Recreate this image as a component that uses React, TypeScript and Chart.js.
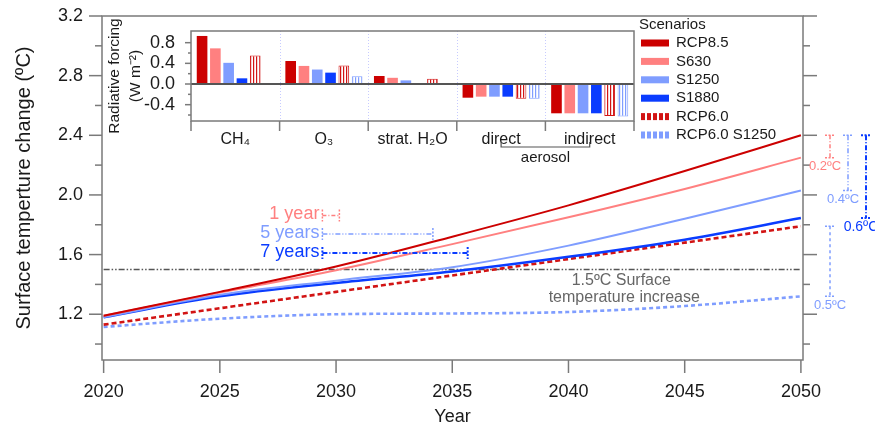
import React, { useEffect, useRef } from 'react';
import { Chart, registerables } from 'chart.js';

Chart.register(...registerables);

// ---------------- data ----------------
const years = [2020, 2025, 2030, 2035, 2040, 2045, 2050];
const rcp85 = [1.19, 1.35, 1.52, 1.72, 1.93, 2.16, 2.4];
const s630 = [1.19, 1.345, 1.495, 1.67, 1.85, 2.04, 2.25];
const s1250 = [1.18, 1.33, 1.425, 1.515, 1.66, 1.84, 2.03];
const s1880 = [1.18, 1.32, 1.41, 1.487, 1.585, 1.7, 1.845];
const rcp60 = [1.13, 1.24, 1.35, 1.46, 1.57, 1.68, 1.79];
const rcp60s1250 = [1.115, 1.17, 1.2, 1.205, 1.215, 1.255, 1.32];

const scenarioNames = ['RCP8.5', 'S630', 'S1250', 'S1880', 'RCP6.0', 'RCP6.0 S1250'];
const legendTitle = 'Scenarios';

const thresholdValue = 1.5;
const thresholdText = ['1.5ºC Surface', 'temperature increase'];

const delayLabels = ['1 year', '5 years', '7 years'];
const diffLabels = ['0.2ºC', '0.4ºC', '0.6ºC', '0.5ºC'];

const xTicks = [2020, 2025, 2030, 2035, 2040, 2045, 2050];
const yTicks = [1.2, 1.6, 2.0, 2.4, 2.8, 3.2];
const yMinorTicks = [1.0, 1.4, 1.8, 2.2, 2.6, 3.0];

const forcingCategories = ['CH₄', 'O₃', 'strat. H₂O', 'direct', 'indirect'];
const forcingRCP85 = [0.93, 0.445, 0.155, -0.265, -0.567];
const forcingS630 = [0.69, 0.35, 0.12, -0.245, -0.567];
const forcingS1250 = [0.41, 0.28, 0.07, -0.245, -0.567];
const forcingS1880 = [0.11, 0.22, 0.02, -0.245, -0.567];
const forcingRCP60 = [0.55, 0.36, 0.1, -0.284, -0.62];
const forcingRCP60S1250 = [0, 0.15, 0, -0.284, -0.63];
const aerosolGroupLabel = 'aerosol';
const aerosolGroup = [3, 4];
const insetYTicks = [-0.4, 0, 0.4, 0.8];
const insetYMinorTicks = [-0.6, -0.2, 0.2, 0.6];

// ---------------- styles / layout ----------------
const FONT = '"Liberation Sans", Arial, Helvetica, sans-serif';
const TEXT = '#1a1a1a';
const AXIS = '#7a7a7a';
const RED = '#cc0000';
const RED2 = '#d21414';
const PINK = '#ff8080';
const LBLUE = '#7f9dff';
const BLUE = '#0a3cff';
const HIDDEN = 'rgba(0,0,0,0)';

const scenarioValues = [rcp85, s630, s1250, s1880, rcp60, rcp60s1250];
const scenarioStyles = [
  { color: RED, width: 2, dash: [] as number[] },
  { color: PINK, width: 2, dash: [] as number[] },
  { color: LBLUE, width: 2, dash: [] as number[] },
  { color: BLUE, width: 2.5, dash: [] as number[] },
  { color: RED2, width: 2.6, dash: [5, 3] },
  { color: LBLUE, width: 2.6, dash: [4, 3] },
];

// delay brackets: reference scenario 0 vs scenarios 1,2,3
const delayCompare = [1, 2, 3];
const delayRowValues = [1.862, 1.738, 1.611];
const delayStyles = [
  { color: PINK, width: 1.5, dash: [4, 2, 1, 2] },
  { color: LBLUE, width: 1.5, dash: [5, 2, 1, 2, 1, 2] },
  { color: BLUE, width: 2, dash: [5, 2, 1, 2] },
];

// right side differences at 2050
const diffPairs = [[0, 1], [0, 2], [0, 3], [4, 5]];
const diffOffsets = [27, 45, 63, 27];
const diffLabelShift = [-5, -5, -5, 0];
const diffStyles = [
  { color: PINK, width: 1.5, dash: [4, 2, 1, 2], font: `13px ${FONT}` },
  { color: LBLUE, width: 1.5, dash: [5, 2, 1, 2, 1, 2], font: `13px ${FONT}` },
  { color: BLUE, width: 2, dash: [5, 2, 1, 2], font: `14px ${FONT}` },
  { color: LBLUE, width: 1.5, dash: [3, 3], font: `13px ${FONT}` },
];

function crossingYear(vals: number[], level: number): number {
  for (let i = 1; i < vals.length; i++) {
    if (vals[i - 1] < level && vals[i] >= level) {
      return years[i - 1] + ((years[i] - years[i - 1]) * (level - vals[i - 1])) / (vals[i] - vals[i - 1]);
    }
  }
  return years[years.length - 1];
}

function strokeLine(ctx: CanvasRenderingContext2D, x1: number, y1: number, x2: number, y2: number) {
  ctx.beginPath();
  ctx.moveTo(x1, y1);
  ctx.lineTo(x2, y2);
  ctx.stroke();
}

const mainPlugin = {
  id: 'mainDecor',
  afterDatasetsDraw(chart: any) {
    const { ctx, scales } = chart;
    const x = scales.x;
    const y = scales.y;
    ctx.save();

    // threshold label
    ctx.fillStyle = '#666';
    ctx.font = `16px ${FONT}`;
    ctx.textAlign = 'center';
    ctx.textBaseline = 'middle';
    const ty = y.getPixelForValue(thresholdValue);
    const tx = x.getPixelForValue(2042.4);
    ctx.fillText(thresholdText[0], tx - 3, ty + 11);
    ctx.fillText(thresholdText[1], tx, ty + 28);

    // delay brackets
    const startYear = crossingYear(scenarioValues[0], thresholdValue);
    const x1 = x.getPixelForValue(startYear);
    delayCompare.forEach((si, k) => {
      const st = delayStyles[k];
      const x2 = x.getPixelForValue(crossingYear(scenarioValues[si], thresholdValue));
      const yy = y.getPixelForValue(delayRowValues[k]);
      ctx.strokeStyle = st.color;
      ctx.lineWidth = st.width;
      ctx.setLineDash(st.dash);
      strokeLine(ctx, x1, yy, x2, yy);
      ctx.setLineDash([2, 1.5]);
      strokeLine(ctx, x1, yy - 6, x1, yy + 6);
      strokeLine(ctx, x2, yy - 6, x2, yy + 6);
      ctx.setLineDash([]);
      ctx.fillStyle = st.color;
      ctx.font = `18px ${FONT}`;
      ctx.textAlign = 'right';
      ctx.textBaseline = 'middle';
      ctx.fillText(delayLabels[k], x1 - 3, yy - 1);
    });

    ctx.restore();
  },
  afterDraw(chart: any) {
    const { ctx, chartArea: ca, scales } = chart;
    const x = scales.x;
    const y = scales.y;
    ctx.save();
    ctx.setLineDash([]);
    ctx.strokeStyle = AXIS;
    ctx.lineWidth = 1.5;
    ctx.strokeRect(ca.left, ca.top, ca.right - ca.left, ca.bottom - ca.top);

    // ticks
    yTicks.forEach((v) => {
      const py = y.getPixelForValue(v);
      strokeLine(ctx, ca.left - 13, py, ca.left, py);
      strokeLine(ctx, ca.right, py, ca.right + 14, py);
    });
    yMinorTicks.forEach((v) => {
      const py = y.getPixelForValue(v);
      strokeLine(ctx, ca.left - 7, py, ca.left, py);
      strokeLine(ctx, ca.right, py, ca.right + 7, py);
    });
    xTicks.forEach((v) => {
      const px = x.getPixelForValue(v);
      strokeLine(ctx, px, ca.bottom, px, ca.bottom + 13);
    });

    // right side differences
    diffPairs.forEach(([a, b], k) => {
      const st = diffStyles[k];
      const va = scenarioValues[a][scenarioValues[a].length - 1];
      const vb = scenarioValues[b][scenarioValues[b].length - 1];
      const px = ca.right + diffOffsets[k];
      const p1 = y.getPixelForValue(va);
      const p2 = y.getPixelForValue(vb);
      ctx.strokeStyle = st.color;
      ctx.lineWidth = st.width;
      ctx.setLineDash(st.dash);
      strokeLine(ctx, px, p1, px, p2);
      ctx.setLineDash([2, 1.5]);
      strokeLine(ctx, px - 5, p1, px + 5, p1);
      strokeLine(ctx, px - 5, p2, px + 5, p2);
      ctx.setLineDash([]);
      ctx.fillStyle = st.color;
      ctx.font = st.font;
      ctx.textAlign = 'center';
      ctx.textBaseline = 'middle';
      ctx.fillText(diffLabels[k], px + diffLabelShift[k], p2 + 9);
    });

    // legend
    const lx = ca.right - 164;
    const ly = ca.top + 9;
    ctx.font = `15px ${FONT}`;
    ctx.textAlign = 'left';
    ctx.textBaseline = 'middle';
    ctx.fillStyle = TEXT;
    ctx.fillText(legendTitle, lx, ly);
    scenarioNames.forEach((name, i) => {
      const yy = ly + 18 + i * 18.4;
      const st = scenarioStyles[i];
      ctx.fillStyle = st.color;
      if (st.dash.length) {
        for (let k = 0; k < 5; k++) ctx.fillRect(lx + 2 + k * 6, yy - 3.5, 4, 7);
      } else {
        ctx.fillRect(lx + 2, yy - 3.5, 28, 7);
      }
      ctx.fillStyle = TEXT;
      ctx.fillText(name, lx + 37, yy);
    });
    ctx.restore();
  },
};

function makeStripePattern(color: string): CanvasPattern | string {
  const c = document.createElement('canvas');
  c.width = 3;
  c.height = 8;
  const g = c.getContext('2d');
  if (!g) return color;
  g.fillStyle = '#ffffff';
  g.fillRect(0, 0, 3, 8);
  g.fillStyle = color;
  g.fillRect(0, 0, 1.2, 8);
  const p = g.createPattern(c, 'repeat');
  return p || color;
}

const insetPlugin = {
  id: 'insetDecor',
  beforeDatasetsDraw(chart: any) {
    const { ctx, chartArea: ca } = chart;
    const n = forcingCategories.length;
    const w = (ca.right - ca.left) / n;
    ctx.save();
    ctx.strokeStyle = 'rgba(130,140,255,0.45)';
    ctx.lineWidth = 1;
    ctx.setLineDash([1, 2]);
    for (let i = 1; i < n; i++) {
      const px = Math.round(ca.left + i * w) + 0.5;
      strokeLine(ctx, px, ca.top, px, ca.bottom);
    }
    ctx.restore();
  },
  afterDatasetsDraw(chart: any) {
    const { ctx, chartArea: ca, scales } = chart;
    const x = scales.x;
    const y = scales.y;
    const n = forcingCategories.length;
    const w = (ca.right - ca.left) / n;
    ctx.save();
    ctx.setLineDash([]);
    // zero line
    ctx.strokeStyle = '#555';
    ctx.lineWidth = 2;
    const zy = y.getPixelForValue(0);
    strokeLine(ctx, ca.left, zy, ca.right, zy);
    // frame
    ctx.strokeStyle = AXIS;
    ctx.lineWidth = 1.5;
    ctx.strokeRect(ca.left, ca.top, ca.right - ca.left, ca.bottom - ca.top);
    insetYTicks.forEach((v) => {
      const py = y.getPixelForValue(v);
      strokeLine(ctx, ca.left - 6, py, ca.left, py);
    });
    insetYMinorTicks.forEach((v) => {
      const py = y.getPixelForValue(v);
      strokeLine(ctx, ca.left - 3, py, ca.left, py);
    });
    for (let i = 0; i <= n; i++) {
      const px = ca.left + i * w;
      strokeLine(ctx, px, ca.bottom, px, ca.bottom + 10);
    }
    // aerosol bracket
    const ax1 = x.getPixelForValue(aerosolGroup[0]);
    const ax2 = x.getPixelForValue(aerosolGroup[1]);
    const by = ca.bottom + 26;
    ctx.strokeStyle = '#555';
    ctx.lineWidth = 1.2;
    ctx.beginPath();
    ctx.moveTo(ax1, by - 5);
    ctx.lineTo(ax1, by);
    ctx.lineTo(ax2, by);
    ctx.lineTo(ax2, by - 5);
    ctx.stroke();
    ctx.fillStyle = TEXT;
    ctx.font = `15px ${FONT}`;
    ctx.textAlign = 'center';
    ctx.textBaseline = 'middle';
    ctx.fillText(aerosolGroupLabel, (ax1 + ax2) / 2, ca.bottom + 37);
    ctx.restore();
  },
};

export default function App() {
  const mainRef = useRef<HTMLCanvasElement>(null);
  const insetRef = useRef<HTMLCanvasElement>(null);

  useEffect(() => {
    document.body.style.margin = '0';
    if (!mainRef.current || !insetRef.current) return;

    const lineDatasets: any[] = scenarioValues.map((vals, i) => ({
      label: scenarioNames[i],
      data: years.map((yr, j) => ({ x: yr, y: vals[j] })),
      borderColor: scenarioStyles[i].color,
      backgroundColor: scenarioStyles[i].color,
      borderWidth: scenarioStyles[i].width,
      borderDash: scenarioStyles[i].dash,
      pointRadius: 0,
      fill: false,
      cubicInterpolationMode: 'monotone',
    }));
    lineDatasets.push({
      label: '1.5ºC',
      data: [
        { x: years[0], y: thresholdValue },
        { x: years[years.length - 1], y: thresholdValue },
      ],
      borderColor: '#555',
      borderWidth: 1.5,
      borderDash: [6, 2, 1.5, 2, 1.5, 2],
      pointRadius: 0,
      fill: false,
    });

    const main = new Chart(mainRef.current, {
      type: 'line',
      data: { datasets: lineDatasets },
      plugins: [mainPlugin],
      options: {
        animation: false,
        responsive: false,
        devicePixelRatio: 1,
        events: [],
        layout: { padding: { top: 16, right: 72, bottom: 0, left: 0 } },
        plugins: { legend: { display: false }, tooltip: { enabled: false } },
        scales: {
          x: {
            type: 'linear',
            min: 2019.93,
            max: 2050.09,
            grid: { display: true, drawOnChartArea: false, drawTicks: true, tickLength: 17, tickColor: HIDDEN, color: HIDDEN },
            border: { display: false },
            ticks: {
              font: { size: 18, family: FONT },
              color: TEXT,
              padding: 4,
              maxRotation: 0,
              callback: (v: any) => String(v),
            },
            afterBuildTicks: (s: any) => {
              s.ticks = xTicks.map((v) => ({ value: v }));
            },
            afterFit: (s: any) => {
              s.height = 68;
            },
            title: {
              display: true,
              text: 'Year',
              color: TEXT,
              font: { size: 18, family: FONT },
              padding: { top: 0, bottom: 0 },
            },
          },
          y: {
            type: 'linear',
            min: 0.893,
            max: 3.2,
            grid: { display: true, drawOnChartArea: false, drawTicks: true, tickLength: 15, tickColor: HIDDEN, color: HIDDEN },
            border: { display: false },
            ticks: {
              font: { size: 18, family: FONT },
              color: TEXT,
              padding: 4,
              callback: (v: any) => Number(v).toFixed(1),
            },
            afterBuildTicks: (s: any) => {
              s.ticks = yTicks.map((v) => ({ value: v }));
            },
            afterFit: (s: any) => {
              s.width = 102;
            },
            title: {
              display: true,
              text: 'Surface temperture change (ºC)',
              color: TEXT,
              font: { size: 20, family: FONT },
              padding: { top: 12, bottom: 0 },
            },
          },
        },
      } as any,
    });

    const forcingValues = [forcingRCP85, forcingS630, forcingS1250, forcingS1880, forcingRCP60, forcingRCP60S1250];
    const barDatasets = forcingValues.map((vals, i) => {
      const st = scenarioStyles[i];
      const hatched = st.dash.length > 0;
      return {
        label: scenarioNames[i],
        data: vals,
        backgroundColor: hatched ? makeStripePattern(st.color) : st.color,
        borderColor: st.color,
        borderWidth: hatched ? 1 : 0,
        categoryPercentage: 0.9,
        barPercentage: 0.8,
      };
    });

    const inset = new Chart(insetRef.current, {
      type: 'bar',
      data: { labels: forcingCategories, datasets: barDatasets as any },
      plugins: [insetPlugin],
      options: {
        animation: false,
        responsive: false,
        devicePixelRatio: 1,
        events: [],
        layout: { padding: { top: 31, right: 11, bottom: 0, left: 0 } },
        plugins: { legend: { display: false }, tooltip: { enabled: false } },
        scales: {
          x: {
            grid: { display: false },
            border: { display: false },
            ticks: {
              font: { size: 16, family: FONT },
              color: TEXT,
              padding: 1,
              maxRotation: 0,
              autoSkip: false,
            },
            afterFit: (s: any) => {
              s.height = 49;
            },
          },
          y: {
            min: -0.716,
            max: 1.026,
            grid: { display: false },
            border: { display: false },
            ticks: {
              font: { size: 18, family: FONT },
              color: TEXT,
              padding: 8,
              callback: (v: any) => Number(v).toFixed(1),
            },
            afterBuildTicks: (s: any) => {
              s.ticks = insetYTicks.map((v) => ({ value: v }));
            },
            afterFit: (s: any) => {
              s.width = 91;
            },
            title: {
              display: true,
              text: ['Radiative forcing', '(W m⁻²)'],
              color: TEXT,
              font: { size: 15.5, family: FONT, lineHeight: 1.3 },
              padding: { top: 5, bottom: 0 },
            },
          },
        },
      } as any,
    });

    return () => {
      main.destroy();
      inset.destroy();
    };
  }, []);

  return (
    <div style={{ position: 'relative', width: 875, height: 428, background: '#ffffff', overflow: 'hidden' }}>
      <canvas
        ref={mainRef}
        width={875}
        height={428}
        style={{ position: 'absolute', left: 0, top: 0, width: 875, height: 428 }}
      />
      <canvas
        ref={insetRef}
        width={545}
        height={170}
        style={{ position: 'absolute', left: 100, top: 0, width: 545, height: 170 }}
      />
    </div>
  );
}
